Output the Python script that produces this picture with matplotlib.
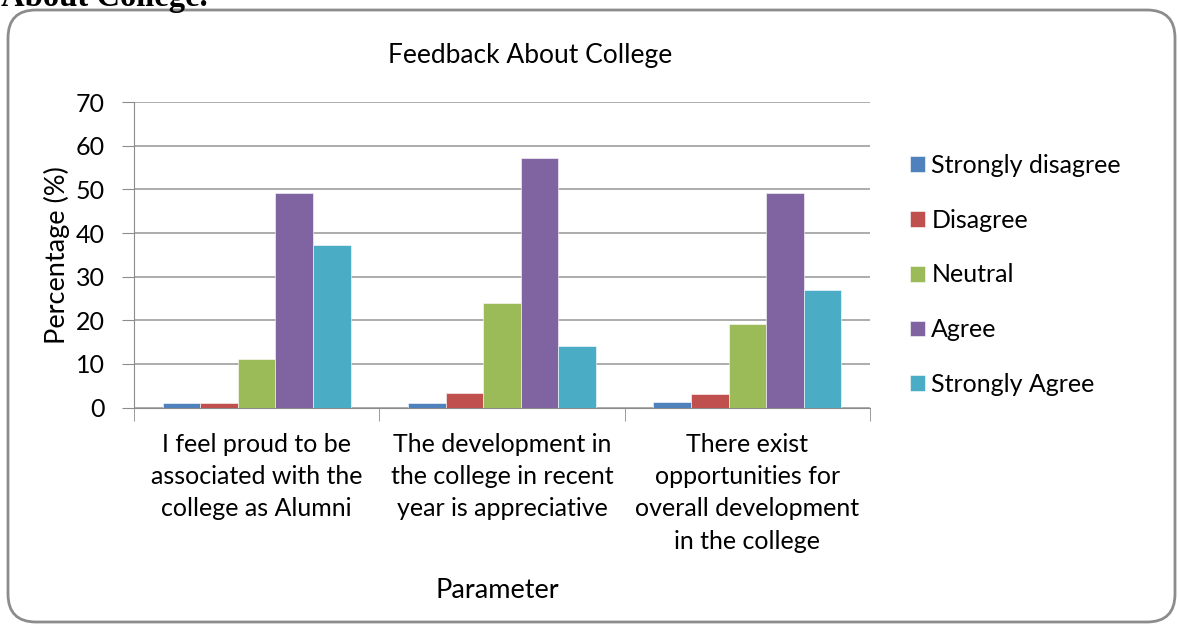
import matplotlib
matplotlib.use("Agg")
import matplotlib.pyplot as plt
import numpy as np
from matplotlib.patches import FancyBboxPatch

plt.rcParams['font.family'] = ['Lato', 'DejaVu Sans']

categories = ["I feel proud to be\nassociated with the\ncollege as Alumni",
              "The development in\nthe college in recent\nyear is appreciative",
              "There exist\nopportunities for\noverall development\nin the college"]
series = ["Strongly disagree", "Disagree", "Neutral", "Agree", "Strongly Agree"]
strongly_disagree = [1.0, 1.0, 1.3]
disagree = [1.0, 3.3, 3.0]
neutral = [11.2, 23.9, 19.1]
agree = [49.2, 57.2, 49.2]
strongly_agree = [37.2, 14.2, 26.9]
values = [strongly_disagree, disagree, neutral, agree, strongly_agree]
colors = ["#4F81BD", "#C0504D", "#9BBB59", "#8064A2", "#4BACC6"]
yticks = [0, 10, 20, 30, 40, 50, 60, 70]

fig = plt.figure(figsize=(11.78, 6.24), dpi=100)

# rounded frame around the chart, in inches
frame = FancyBboxPatch((0.08, 0.02), 11.67, 6.12,
                       boxstyle="round,pad=0,rounding_size=0.28",
                       transform=fig.dpi_scale_trans, facecolor="white",
                       edgecolor="#8c8c8c", linewidth=2, zorder=-10)
fig.patches.append(frame)

# cut off heading from the page above
fig.text(0.001, 1 - 6.0/624, "About College.", family="Liberation Serif",
         fontweight="bold", fontsize=23.5, va="baseline", ha="left")

ax = fig.add_axes([134/1178, 1 - 407.5/624, 736/1178, 305.2/624])
ax.patch.set_alpha(0)
x = np.arange(len(categories))
w = 0.153
for i in range(len(series)):
    ax.bar(x + (i - 2) * w, values[i], w, color=colors[i], label=series[i],
           edgecolor="#ffffff", linewidth=0.4, zorder=3)

ax.set_xlim(-0.5, 2.5)
ax.set_ylim(0, 70)
ax.set_yticks(yticks)
ax.tick_params(axis="y", labelsize=18, length=9, color="#8c8c8c", pad=12)
ax.set_xticks(x)
ax.set_xticklabels(categories, fontsize=18, linespacing=1.5)
ax.tick_params(axis="x", length=0, pad=18)
ax.set_xticks([-0.5, 0.5, 1.5, 2.5], minor=True)
ax.tick_params(axis="x", which="minor", length=9, color="#8c8c8c")
ax.grid(axis="y", color="#a6a6a6", linewidth=1.3, zorder=0)
for s in ["top", "right"]:
    ax.spines[s].set_visible(False)
ax.spines["left"].set_color("#8c8c8c")
ax.spines["bottom"].set_color("#8c8c8c")

ax.set_ylabel("Percentage (%)", fontsize=19.5)
ax.yaxis.set_label_coords(-64/736, 0.5)
fig.text(497/1178, 1 - 590/624, "Parameter", fontsize=19.5, ha="center", va="center")
fig.text(530/1178, 1 - 56/624, "Feedback About College", fontsize=19, ha="center", va="center")

ax.legend(loc="center left", bbox_to_anchor=(910/1178, 1 - 275/624),
          bbox_transform=fig.transFigure, frameon=False, fontsize=18,
          handlelength=0.6, handleheight=0.6, handletextpad=0.25,
          labelspacing=1.27, borderpad=0, borderaxespad=0)

plt.savefig("out.png", dpi=100)
